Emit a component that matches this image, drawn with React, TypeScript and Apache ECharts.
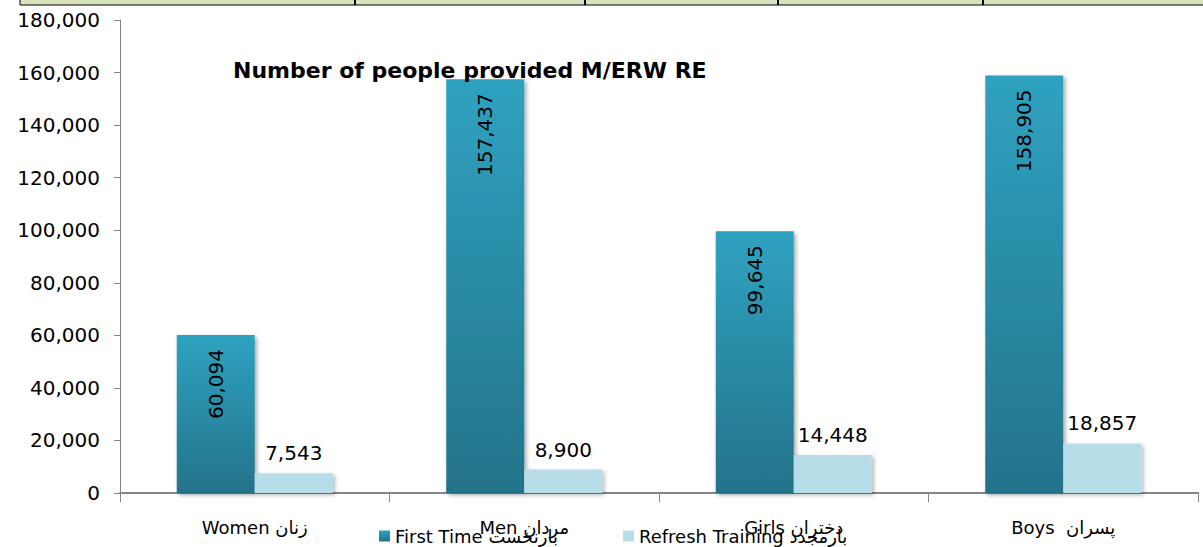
import React, { useEffect, useRef } from "react";
import * as echarts from "echarts";

const categories = ["Women زنان", "Men مردان", "Girls دختران", "Boys  پسران"];
const firstTime = [60094, 157437, 99645, 158905];
const refreshTraining = [7543, 8900, 14448, 18857];
const yTicks = { min: 0, max: 180000, interval: 20000 };
const seriesNames = ["First Time بارنخست", "Refresh Training بارمجدد"];
const titleText = "Number of people provided M/ERW RE";
const tableDividers = [355, 585, 778, 983];

const FONT = "DejaVu Sans";
const fmt = (v: number) => v.toLocaleString("en-US");

export default function App() {
  const ref = useRef<HTMLDivElement>(null);
  useEffect(() => {
    if (!ref.current) return;
    const chart = echarts.init(ref.current, null, { renderer: "svg" });
    const graphics: any[] = [
      {
        type: "rect",
        shape: { x: 20, y: -1, width: 1190, height: 6 },
        style: { fill: "#d7e4bd", stroke: "#000", lineWidth: 1 },
        silent: true,
      },
      ...tableDividers.map((x) => ({
        type: "line",
        shape: { x1: x, y1: 0, x2: x, y2: 5 },
        style: { stroke: "#000", lineWidth: 2 },
        silent: true,
      })),
    ];
    chart.setOption({
      animation: false,
      textStyle: { fontFamily: FONT },
      title: {
        text: titleText,
        left: 228,
        top: 54,
        textStyle: { fontFamily: FONT, fontSize: 22, fontWeight: "bold", color: "#000" },
      },
      graphic: graphics,
      legend: [
        {
          data: [seriesNames[0]],
          left: 374,
          top: 522,
          icon: "rect",
          itemWidth: 11,
          itemHeight: 11,
          itemGap: 6,
          textStyle: { fontFamily: FONT, fontSize: 18, color: "#000" },
        },
        {
          data: [seriesNames[1]],
          left: 618,
          top: 522,
          icon: "rect",
          itemWidth: 11,
          itemHeight: 11,
          itemGap: 6,
          textStyle: { fontFamily: FONT, fontSize: 18, color: "#000" },
        },
      ],
      grid: { left: 120, right: 5, top: 20, bottom: 54, containLabel: false },
      xAxis: {
        type: "category",
        data: categories,
        axisLine: { lineStyle: { color: "#868686", width: 2 } },
        axisTick: { show: true, length: 9, lineStyle: { color: "#868686" } },
        axisLabel: { margin: 25, fontSize: 18, color: "#000", fontFamily: FONT },
      },
      yAxis: {
        type: "value",
        min: yTicks.min,
        max: yTicks.max,
        interval: yTicks.interval,
        axisLine: { show: true, lineStyle: { color: "#868686", width: 1 } },
        axisTick: { show: true, length: 6, lineStyle: { color: "#868686" } },
        splitLine: { show: false },
        axisLabel: {
          margin: 20,
          fontSize: 20,
          color: "#000",
          fontFamily: FONT,
          formatter: (v: number) => fmt(v),
        },
      },
      series: [
        {
          name: seriesNames[0],
          type: "bar",
          data: firstTime,
          barWidth: 78,
          barGap: "0%",
          itemStyle: {
            color: new echarts.graphic.LinearGradient(0, 0, 0, 1, [
              { offset: 0, color: "#2fa2c0" },
              { offset: 1, color: "#24738a" },
            ]),
            shadowColor: "rgba(0,0,0,0.35)",
            shadowBlur: 4,
            shadowOffsetX: 2,
            shadowOffsetY: 2,
          },
          label: {
            show: true,
            position: "insideTop",
            rotate: 90,
            align: "right",
            verticalAlign: "middle",
            distance: 14,
            fontSize: 20,
            color: "#000",
            fontFamily: FONT,
            formatter: (p: any) => fmt(p.value),
          },
        },
        {
          name: seriesNames[1],
          type: "bar",
          data: refreshTraining,
          barWidth: 78,
          barGap: "0%",
          itemStyle: {
            color: "#b7dde8",
            shadowColor: "rgba(0,0,0,0.3)",
            shadowBlur: 4,
            shadowOffsetX: 2,
            shadowOffsetY: 2,
          },
          label: {
            show: true,
            position: "top",
            distance: 10,
            fontSize: 20,
            color: "#000",
            fontFamily: FONT,
            formatter: (p: any) => fmt(p.value),
          },
        },
      ],
    });
    return () => chart.dispose();
  }, []);
  return (
    <div
      ref={ref}
      style={{ position: "fixed", left: 0, top: 0, width: 1203, height: 547, background: "#fff" }}
    />
  );
}
